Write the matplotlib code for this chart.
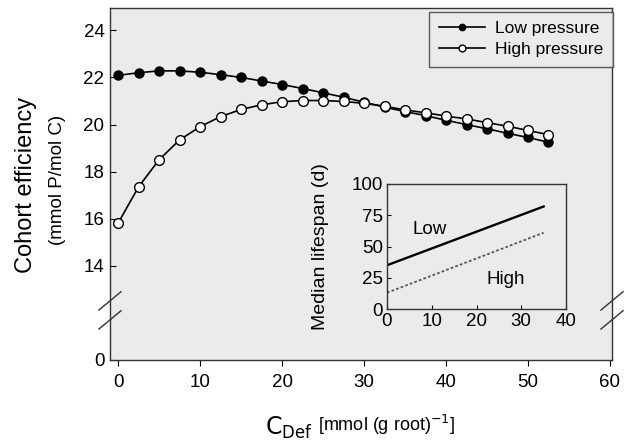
import numpy as np
import matplotlib
matplotlib.use("Agg")
import matplotlib.pyplot as plt

plt.rcParams['font.family'] = ['Liberation Sans', 'DejaVu Sans']

# main panel: cohort efficiency vs C_Def
c_def = [0, 2.5, 5, 7.5, 10, 12.5, 15, 17.5, 20, 22.5, 25, 27.5,
         30, 32.5, 35, 37.5, 40, 42.5, 45, 47.5, 50, 52.5]
low_pressure = [22.09, 22.20, 22.28, 22.28, 22.22, 22.12, 22.00, 21.85, 21.70, 21.53, 21.35, 21.16,
                20.95, 20.74, 20.55, 20.38, 20.18, 20.00, 19.82, 19.63, 19.45, 19.25]
high_pressure = [15.82, 17.36, 18.51, 19.35, 19.91, 20.34, 20.64, 20.84, 20.97, 21.02, 21.02, 20.98,
                 20.90, 20.78, 20.62, 20.50, 20.36, 20.24, 20.08, 19.93, 19.75, 19.57]

# y axis is broken: the bottom tick "0" sits at 10 on the drawn scale
ytick_pos = [10, 14, 16, 18, 20, 22, 24]
ytick_lab = ["0", "14", "16", "18", "20", "22", "24"]
xticks = [0, 10, 20, 30, 40, 50, 60]

# inset: median lifespan
inset_x = [0, 35]
inset_low = [35, 82]
inset_high = [13, 61]
inset_xticks = [0, 10, 20, 30, 40]
inset_yticks = [0, 25, 50, 75, 100]

fig = plt.figure(figsize=(6.26, 4.41), dpi=100)
bg = '#ebebeb'

ax = fig.add_axes([110/626, 1-360/441, 502/626, 352/441])
ax.set_facecolor(bg)
ax.plot(c_def, high_pressure, '-o', color='black', lw=1.2, ms=7,
        mfc='white', mec='black', mew=1.0, label='High pressure', zorder=3)
ax.plot(c_def, low_pressure, '-o', color='black', lw=1.2, ms=6.5,
        mfc='black', mec='black', label='Low pressure', zorder=2)
ax.set_xlim(-1, 60.25)
ax.set_ylim(10, 24.95)
ax.set_xticks(xticks)
ax.set_yticks(ytick_pos)
ax.set_yticklabels(ytick_lab)
ax.tick_params(axis='y', direction='in', labelsize=13.5, length=4, pad=4)
ax.tick_params(axis='x', direction='out', labelsize=13.5, length=4, pad=6)
for s in ax.spines.values():
    s.set_linewidth(1.0)
    s.set_color('#333333')

h, l = ax.get_legend_handles_labels()
leg = ax.legend(h[::-1], l[::-1], loc='upper right', bbox_to_anchor=(1.002, 0.99),
                borderaxespad=0, fontsize=12.5, frameon=True, fancybox=False,
                handlelength=2.65, handletextpad=0.6, borderpad=0.55,
                labelspacing=0.35, markerscale=0.7)
leg.get_frame().set_edgecolor('#333333')
leg.get_frame().set_facecolor(bg)
leg.get_frame().set_linewidth(1.0)

# break marks on both vertical spines
dx, dy = 0.022, 0.026
for xc in (0.0, 1.0):
    for yc in (0.168, 0.114):
        ax.plot([xc - dx, xc + dx], [yc - dy, yc + dy], transform=ax.transAxes,
                color='#333333', lw=1.0, clip_on=False)

fig.text(26/626, 1-185/441, "Cohort efficiency", rotation=90, fontsize=17,
         ha='center', va='center')
fig.text(57/626, 1-180/441, "(mmol P/mol C)", rotation=90, fontsize=13.5,
         ha='center', va='center')
fig.text(265/626, 1-428/441, r"$\mathsf{C}_{\mathsf{Def}}$", fontsize=17,
         ha='left', va='center')
fig.text(318/626, 1-425/441, r"[mmol (g root)$^{\mathsf{-1}}$]", fontsize=13,
         ha='left', va='center')

# inset
ins = fig.add_axes([387/626, 1-309/441, 179/626, 125/441])
ins.set_facecolor(bg)
ins.plot(inset_x, inset_low, color='black', lw=1.7)
ins.plot(inset_x, inset_high, color='#555555', lw=1.3, ls=(0, (1.5, 1.2)))
ins.set_xlim(0, 40)
ins.set_ylim(0, 100)
ins.set_xticks(inset_xticks)
ins.set_yticks(inset_yticks)
ins.tick_params(direction='in', labelsize=13.5, length=3, pad=3)
for s in ins.spines.values():
    s.set_linewidth(1.0)
    s.set_color('#333333')
ins.set_ylabel("Median lifespan (d)", fontsize=14, labelpad=16)
ins.text(9.6, 64, "Low", fontsize=13.5, ha='center', va='center')
ins.text(26.6, 24, "High", fontsize=13.5, ha='center', va='center')

fig.savefig("out.png", dpi=100)
